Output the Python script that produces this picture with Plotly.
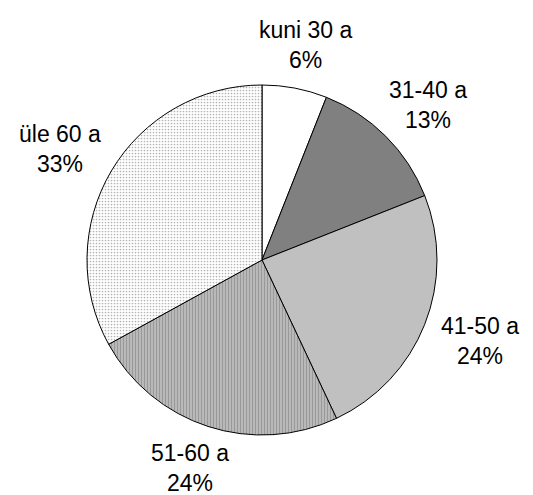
import numpy as np
import plotly.graph_objects as go

# Data
labels = ["kuni 30 a", "31-40 a", "41-50 a", "51-60 a", "üle 60 a"]
shares = [6, 13, 24, 24, 33]

W, H = 533, 495
# the page body adds an 8px offset, so positions are given in figure pixels
cx, cy, R = 254, 252, 175  # pie centre and radius

fig = go.Figure(go.Pie(
    labels=labels,
    values=shares,
    sort=False,
    direction="clockwise",
    rotation=0,
    textinfo="none",
    hoverinfo="label+percent",
    showlegend=False,
    domain=dict(x=[(cx - R) / W, (cx + R) / W], y=[1 - (cy + R) / H, 1 - (cy - R) / H]),
    marker=dict(
        colors=["#ffffff", "#808080", "#c0c0c0", "#c4c4c4", "#ffffff"],
        line=dict(color="#000000", width=1),
        pattern=dict(
            shape=["", "", "", "|", "."],
            bgcolor=["#ffffff", "#808080", "#c0c0c0", "#c4c4c4", "#ffffff"],
            fgcolor=["#000000", "#000000", "#000000", "#999999", "#b4b4b4"],
            size=3,
            solidity=[0.2, 0.2, 0.2, 0.5, 0.25],
        ),
    ),
))

# labels outside the pie, at the middle angle of each slice
total = sum(shares)
cum = np.cumsum([0] + shares)
rx, ry = 1.34 * R, 1.25 * R
for i, (lab, v) in enumerate(zip(labels, shares)):
    theta = np.deg2rad((cum[i] + v / 2) / total * 360)
    px_x = cx + rx * np.sin(theta)
    px_y = cy - ry * np.cos(theta)
    fig.add_annotation(
        x=px_x / W, y=1 - px_y / H, xref="paper", yref="paper",
        text=f"{lab}<br>{round(v / total * 100)}%",
        showarrow=False, xanchor="center", yanchor="middle",
        font=dict(family="Liberation Sans, Arial", size=23, color="#000000"),
    )

fig.update_layout(
    width=W, height=H,
    margin=dict(l=0, r=0, t=0, b=0),
    paper_bgcolor="#ffffff",
    plot_bgcolor="#ffffff",
)

fig.write_html("out.html")
